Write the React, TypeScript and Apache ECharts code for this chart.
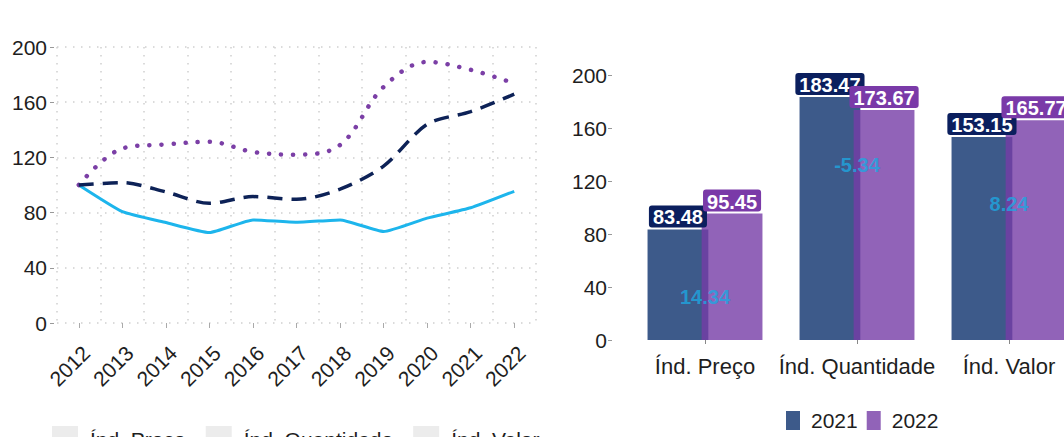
import React, { useEffect, useRef } from "react";
import * as echarts from "echarts";

const years = ["2012", "2013", "2014", "2015", "2016", "2017", "2018", "2019", "2020", "2021", "2022"];
const precoIdx = [100, 80.7, 72.8, 65.5, 74.7, 73.0, 74.7, 66.3, 76.0, 83.48, 95.45];
const quantIdx = [100, 126.5, 129.4, 131.3, 124.0, 122.0, 129.0, 171.0, 189.2, 183.47, 173.67];
const valorIdx = [100, 101.7, 95.0, 86.7, 91.6, 89.6, 97.0, 113.7, 144.0, 153.15, 165.77];
const lineNames = ["Índ. Preço", "Índ. Quantidade", "Índ. Valor"];

const barCategories = ["Índ. Preço", "Índ. Quantidade", "Índ. Valor"];
const values2021 = [83.48, 183.47, 153.15];
const values2022 = [95.45, 173.67, 165.77];
const changeLabels = ["14.34", "-5.34", "8.24"];
const changeLabelY = [32.5, 132, 102.6];

const yTicks = [0, 40, 80, 120, 160, 200];

const FONT = "Liberation Sans, Arial, Helvetica, sans-serif";
const TXT = "#1e1e1e";

export default function App() {
  const ref = useRef<HTMLDivElement>(null);
  useEffect(() => {
    if (!ref.current) return;
    const chart = echarts.init(ref.current, undefined, { renderer: "svg" });
    const gridDots = { color: "#cfcfcf", width: 1.5, type: [1.5, 6.5] as any };
    const barLabel = (bg: string) => ({
      show: true,
      position: "top",
      distance: 2,
      color: "#fff",
      fontWeight: "bold",
      fontSize: 20,
      fontFamily: FONT,
      backgroundColor: bg,
      padding: [2, 4, 0, 4],
      borderRadius: 3,
      formatter: (p: any) => p.value.toFixed(2),
    });
    const option: any = {
      animation: false,
      textStyle: { fontFamily: FONT },
      grid: [
        { left: 57, top: 47, width: 479, height: 276, outerBoundsMode: "none" },
        { left: 629, top: 75, width: 456, height: 265, outerBoundsMode: "none" },
      ],
      xAxis: [
        {
          gridIndex: 0,
          type: "category",
          data: years,
          boundaryGap: true,
          offset: 10,
          axisLine: { show: false },
          axisTick: { show: true, alignWithLabel: true, length: 5, lineStyle: { color: "#aaa" } },
          axisLabel: {
            rotate: 45,
            margin: 9,
            verticalAlign: "top",
            fontSize: 21,
            color: TXT,
            fontFamily: FONT,
            interval: 0,
          },
          splitLine: { show: true, interval: 0, lineStyle: gridDots },
        },
        {
          gridIndex: 1,
          type: "category",
          data: barCategories,
          offset: 3,
          axisLine: { show: false },
          axisTick: { show: true, alignWithLabel: true, length: 4, lineStyle: { color: "#888" } },
          axisLabel: { margin: 12, fontSize: 22, color: TXT, fontFamily: FONT, interval: 0 },
          splitLine: { show: false },
        },
      ],
      yAxis: [
        {
          gridIndex: 0,
          type: "value",
          min: yTicks[0],
          max: yTicks[yTicks.length - 1],
          interval: 40,
          offset: 3,
          axisLine: { show: false },
          axisTick: { show: true, length: 4, lineStyle: { color: "#999" } },
          axisLabel: { margin: 7, fontSize: 21, color: TXT, fontFamily: FONT },
          splitLine: { show: true, lineStyle: gridDots },
        },
        {
          gridIndex: 1,
          type: "value",
          min: yTicks[0],
          max: yTicks[yTicks.length - 1],
          interval: 40,
          offset: 17,
          axisLine: { show: false },
          axisTick: { show: true, length: 4, lineStyle: { color: "#999" } },
          axisLabel: { margin: 5, fontSize: 21, color: TXT, fontFamily: FONT },
          splitLine: { show: false },
        },
      ],
      legend: [
        {
          left: 52,
          top: 426,
          padding: 0,
          icon: "rect",
          itemWidth: 26,
          itemHeight: 26,
          itemGap: 20,
          textStyle: { fontSize: 21, color: TXT, fontFamily: FONT, padding: [0, 0, 0, 7] },
          data: lineNames.map((n) => ({ name: n, itemStyle: { color: "#ececec", borderWidth: 0 } })),
        },
        {
          left: 786,
          top: 410,
          padding: 0,
          icon: "rect",
          itemWidth: 14,
          itemHeight: 19,
          itemGap: 9,
          textStyle: { fontSize: 21, color: TXT, fontFamily: FONT, padding: [0, 0, 0, 6] },
          data: [
            { name: "2021", itemStyle: { color: "#3d5a8a", borderWidth: 0 } },
            { name: "2022", itemStyle: { color: "#9163b8", borderWidth: 0 } },
          ],
        },
      ],
      series: [
        {
          name: lineNames[0],
          type: "line",
          xAxisIndex: 0,
          yAxisIndex: 0,
          data: precoIdx,
          showSymbol: false,
          smooth: 0.15,
          lineStyle: { color: "#1db5ec", width: 3 },
          itemStyle: { color: "#1db5ec" },
          z: 3,
        },
        {
          name: lineNames[1],
          type: "line",
          xAxisIndex: 0,
          yAxisIndex: 0,
          data: quantIdx,
          showSymbol: false,
          smooth: 0.35,
          lineStyle: { color: "#7b3fa6", width: 4.5, type: [0.1, 12], cap: "round" },
          itemStyle: { color: "#7b3fa6" },
          z: 3,
        },
        {
          name: lineNames[2],
          type: "line",
          xAxisIndex: 0,
          yAxisIndex: 0,
          data: valorIdx,
          showSymbol: false,
          smooth: 0.3,
          lineStyle: { color: "#0d2257", width: 3.5, type: [15, 9] },
          itemStyle: { color: "#0d2257" },
          z: 3,
        },
        {
          name: "2021",
          type: "bar",
          xAxisIndex: 1,
          yAxisIndex: 1,
          data: values2021,
          barWidth: "40%",
          barGap: "-11%",
          itemStyle: { color: "rgba(13,49,109,0.8)" },
          label: barLabel("#0b1f5e"),
        },
        {
          name: "2022",
          type: "bar",
          xAxisIndex: 1,
          yAxisIndex: 1,
          data: values2022,
          barWidth: "40%",
          barGap: "-11%",
          itemStyle: { color: "rgba(118,60,166,0.8)" },
          label: barLabel("#7a3aa8"),
        },
        {
          name: "change",
          type: "scatter",
          xAxisIndex: 1,
          yAxisIndex: 1,
          data: barCategories.map((c, i) => [c, changeLabelY[i]]),
          symbolSize: 1,
          itemStyle: { color: "rgba(0,0,0,0)" },
          z: 10,
          label: {
            show: true,
            position: "inside",
            color: "#1ea8e2",
            fontWeight: "bold",
            fontSize: 20,
            fontFamily: FONT,
            formatter: (p: any) => changeLabels[p.dataIndex],
          },
        },
      ],
    };
    chart.setOption(option);
    return () => chart.dispose();
  }, []);
  return (
    <div
      ref={ref}
      style={{ position: "fixed", left: 0, top: 0, width: 1064, height: 437, background: "#fff" }}
    />
  );
}
